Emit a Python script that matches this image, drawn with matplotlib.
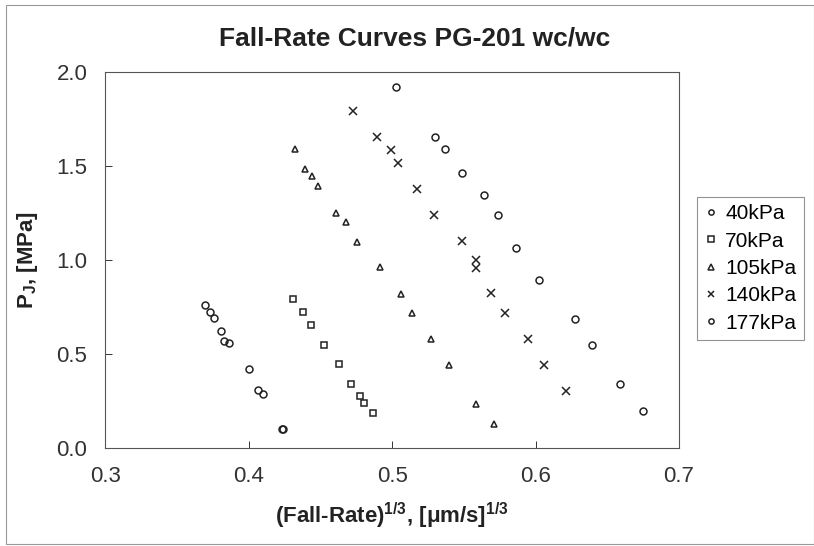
import matplotlib
matplotlib.use("Agg")
import matplotlib.pyplot as plt
from matplotlib.patches import Rectangle

plt.rcParams['font.family'] = ['Liberation Sans', 'DejaVu Sans']
plt.rcParams['mathtext.fontset'] = 'custom'
plt.rcParams['mathtext.rm'] = 'Liberation Sans'
plt.rcParams['mathtext.bf'] = 'Liberation Sans:bold'

# ---- data ----
x_40 = [0.3691, 0.3726, 0.3756, 0.3805, 0.3826, 0.3863, 0.4002, 0.4065, 0.4100, 0.4232, 0.4238]
y_40 = [0.761, 0.725, 0.690, 0.621, 0.569, 0.559, 0.418, 0.309, 0.289, 0.103, 0.100]

x_70 = [0.4311, 0.4376, 0.4434, 0.4525, 0.4629, 0.4709, 0.4778, 0.4806, 0.4866]
y_70 = [0.793, 0.722, 0.654, 0.548, 0.445, 0.342, 0.275, 0.238, 0.186]

x_105 = [0.4321, 0.4393, 0.4439, 0.4483, 0.4611, 0.4674, 0.4755, 0.4915,
         0.5059, 0.5136, 0.5273, 0.5396, 0.5587, 0.5712]
y_105 = [1.589, 1.482, 1.445, 1.394, 1.248, 1.204, 1.097, 0.961,
         0.819, 0.716, 0.578, 0.443, 0.232, 0.128]

x_140 = [0.4727, 0.4894, 0.4992, 0.5040, 0.5173, 0.5294, 0.5484, 0.5584,
         0.5587, 0.5686, 0.5786, 0.5949, 0.6058, 0.6214]
y_140 = [1.794, 1.656, 1.585, 1.518, 1.379, 1.241, 1.099, 1.000,
         0.956, 0.823, 0.720, 0.580, 0.441, 0.303]

x_177 = [0.5029, 0.5296, 0.5370, 0.5484, 0.5640, 0.5740, 0.5866, 0.6021,
         0.6277, 0.6390, 0.6587, 0.6748]
y_177 = [1.918, 1.656, 1.589, 1.464, 1.344, 1.238, 1.065, 0.892,
         0.685, 0.546, 0.339, 0.198]

labels = ["40kPa", "70kPa", "105kPa", "140kPa", "177kPa"]
x_ticks = [0.3, 0.4, 0.5, 0.6, 0.7]
y_ticks = [0.0, 0.5, 1.0, 1.5, 2.0]

# ---- figure ----
fig = plt.figure(figsize=(8.14, 5.46), dpi=100)
ax = fig.add_axes([0.1296, 0.1795, 0.7046, 0.6885])

series = [(x_40, y_40, 'o'), (x_70, y_70, 's'), (x_105, y_105, '^'),
          (x_140, y_140, 'x'), (x_177, y_177, 'o')]
sizes = {'o': 5, 's': 5, '^': 5, 'x': 5.5}
for (xs, ys, m), lab in zip(series, labels):
    ax.plot(xs, ys, linestyle='none', marker=m, markersize=sizes[m],
            markerfacecolor='none', markeredgecolor='#222222',
            markeredgewidth=1.1, color='#222222', label=lab)

ax.set_xlim(0.3, 0.7)
ax.set_ylim(0.0, 2.0)
ax.set_xticks(x_ticks)
ax.set_yticks(y_ticks)
ax.set_xticklabels([f"{v:.1f}" for v in x_ticks])
ax.set_yticklabels([f"{v:.1f}" for v in y_ticks])
ax.tick_params(direction='in', length=5, width=0.7, labelsize=16,
               colors='#333333', pad=13)
ax.tick_params(axis='x', pad=13)
for sp in ax.spines.values():
    sp.set_linewidth(0.8)
    sp.set_color('#555555')

ax.set_xlabel(r"(Fall-Rate)$^{\mathbf{1/3}}$, [$\mathbf{\mu}$m/s]$^{\mathbf{1/3}}$",
              fontsize=16, fontweight='bold', color='#222222', labelpad=10)
ax.set_ylabel(r"P$_{\mathbf{J}}$, [MPa]", fontsize=16, fontweight='bold',
              color='#222222', labelpad=12)

fig.text(0.509, 0.930, "Fall-Rate Curves PG-201 wc/wc", ha='center', va='center',
         fontsize=19, fontweight='bold', color='#222222')

leg = ax.legend(loc='upper left', bbox_to_anchor=(697 / 814, 1 - 197 / 546),
                bbox_transform=fig.transFigure, fontsize=15,
                frameon=True, fancybox=False, handlelength=0.6,
                handletextpad=0.4, borderpad=0.35, labelspacing=0.4,
                markerscale=0.75, borderaxespad=0.0)
leg.get_frame().set_edgecolor('#777777')
leg.get_frame().set_linewidth(0.8)

# outer border of the chart area
fig.patches.append(Rectangle((0.007, 0.003), 0.993, 0.988, transform=fig.transFigure,
                             fill=False, edgecolor='#999999', linewidth=0.8))

fig.savefig("out.png", dpi=100)
